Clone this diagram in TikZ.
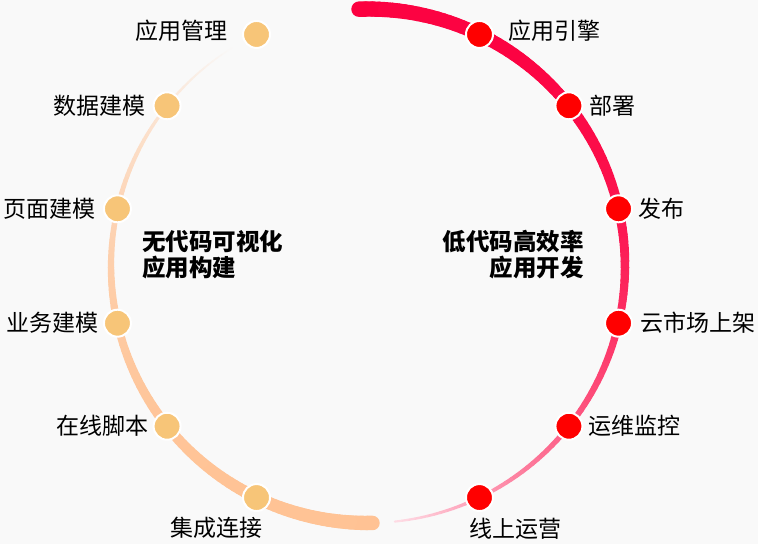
\documentclass[tikz,border=0pt]{standalone}
\usepackage{fontspec}
\setmainfont{Noto Sans CJK SC}
\usetikzlibrary{positioning}
\definecolor{arcred}{RGB}{252,0,64}
\definecolor{dotred}{RGB}{255,0,0}
\definecolor{arcpeach}{RGB}{255,194,148}
\definecolor{dotpeach}{RGB}{247,197,120}
\definecolor{bgcol}{RGB}{249,249,249}

\begin{document}
\begin{tikzpicture}[
    x=1pt, y=-1pt,
    node distance=7pt,
    dot/.style={circle, draw=white, line width=2pt, minimum size=27pt, inner sep=0pt},
    reddot/.style={dot, fill=dotred},
    peachdot/.style={dot, fill=dotpeach},
    itemtext/.style={inner sep=0pt, font=\fontsize{23}{26}\selectfont, text=black},
    headtext/.style={inner sep=0pt, font=\fontsize{23.5}{26}\selectfont\bfseries, text=black}
]
    \fill[bgcol] (0,0) rectangle (758,544);
    \useasboundingbox (0,0) rectangle (758,544);

    % red arc, thick at the top and fading out at the bottom
    \foreach \i in {0,...,119} {
        \pgfmathsetmacro\ta{\i/120}
        \pgfmathsetmacro\tb{(\i+1)/120}
        \pgfmathsetmacro\aa{92-176*\ta}
        \pgfmathsetmacro\ab{92-176*\tb}
        \pgfmathsetmacro\wd{15.5-13.5*\ta}
        \pgfmathtruncatemacro\pct{12+88*(1-\ta^3)}
        \colorlet{segcol}{arcred!\pct!white}
        \draw[line width=\wd pt, segcol, line cap=round]
            ({368+257*cos(\aa)},{266-257*sin(\aa)}) -- ({368+257*cos(\ab)},{266-257*sin(\ab)});
    }
    % peach arc, thick at the bottom and fading out at the top
    \foreach \i in {0,...,119} {
        \pgfmathsetmacro\ta{\i/120}
        \pgfmathsetmacro\tb{(\i+1)/120}
        \pgfmathsetmacro\aa{-89-149*\ta}
        \pgfmathsetmacro\ab{-89-149*\tb}
        \pgfmathsetmacro\wd{14.5-13.5*\ta}
        \pgfmathtruncatemacro\pct{100*(1-\ta^3)}
        \colorlet{segcol}{arcpeach!\pct!bgcol}
        \draw[line width=\wd pt, segcol, line cap=round]
            ({368+257*cos(\aa)},{266-257*sin(\aa)}) -- ({368+257*cos(\ab)},{266-257*sin(\ab)});
    }

    % right side: low code
    \node (engine) [reddot] at ({368+257*cos(64.29)},{266-257*sin(64.29)}) {};
    \node (deploy) [reddot] at ({368+257*cos(38.57)},{266-257*sin(38.57)}) {};
    \node (publish) [reddot] at ({368+257*cos(12.86)},{266-257*sin(12.86)}) {};
    \node (market) [reddot] at ({368+257*cos(-12.86)},{266-257*sin(-12.86)}) {};
    \node (monitor) [reddot] at ({368+257*cos(-38.57)},{266-257*sin(-38.57)}) {};
    \node (ops) [reddot] at ({368+257*cos(-64.29)},{266-257*sin(-64.29)}) {};

    \node [itemtext, right=14pt of engine, yshift=4pt] {应用引擎};
    \node [itemtext, right=6pt of deploy] {部署};
    \node [itemtext, right=5pt of publish] {发布};
    \node [itemtext, right=7pt of market] {云市场上架};
    \node [itemtext, right=5pt of monitor] {运维监控};
    \node [itemtext, anchor=north west] at ([yshift=-10pt]ops.south west) {线上运营};

    % left side: no code
    \node (appmgr) [peachdot] at ({368+257*cos(115.71)},{266-257*sin(115.71)}) {};
    \node (datamod) [peachdot] at ({368+257*cos(141.43)},{266-257*sin(141.43)}) {};
    \node (pagemod) [peachdot] at ({368+257*cos(167.14)},{266-257*sin(167.14)}) {};
    \node (bizmod) [peachdot] at ({368+257*cos(192.86)},{266-257*sin(192.86)}) {};
    \node (script) [peachdot] at ({368+257*cos(218.57)},{266-257*sin(218.57)}) {};
    \node (integ) [peachdot] at ({368+257*cos(244.29)},{266-257*sin(244.29)}) {};

    \node [itemtext, left=14pt of appmgr, yshift=4pt] {应用管理};
    \node [itemtext, left=7pt of datamod] {数据建模};
    \node [itemtext, left=7pt of pagemod] {页面建模};
    \node [itemtext, left=4pt of bizmod] {业务建模};
    \node [itemtext, left=4pt of script] {在线脚本};
    \node [itemtext, anchor=north east] at ([xshift=-4pt,yshift=-9pt]integ.south east) {集成连接};

    % centre titles
    \node (nocode) [headtext, align=left, anchor=west] at (142,255) {无代码可视化\\应用构建};
    \node (lowcode) [headtext, align=right, anchor=east] at (584,255) {低代码高效率\\应用开发};
\end{tikzpicture}
\end{document}
